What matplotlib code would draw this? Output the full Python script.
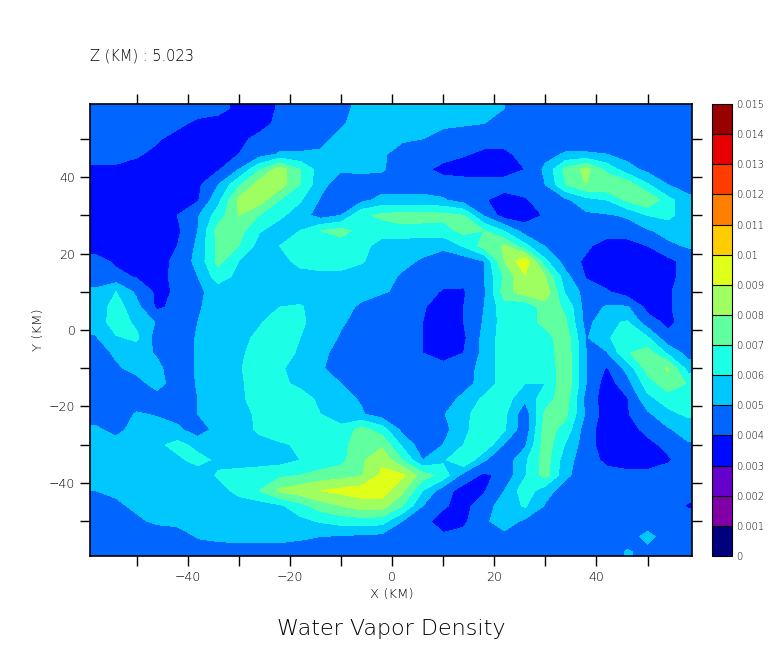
import numpy as np
import matplotlib
matplotlib.use('Agg')
import matplotlib.pyplot as plt

# grid, values in units of 0.001
x_km = [-58 + 4 * i for i in range(30)]
y_km = [58 - 4 * i for i in range(30)]

vapor = [
    [4.4,4.4,4.4,4.4,4.4,4.4,4.4,3.7,3.6,4.1,4.4,4.5,4.8,5.2,5.4,5.5,5.4,5.3,5.2,5.1,5.0,4.5,4.4,4.4,4.4,4.4,4.4,4.4,4.4,4.4],
    [4.4,4.4,4.4,4.4,4.2,3.8,3.5,3.5,3.7,4.2,4.4,4.5,4.9,5.3,5.4,5.3,5.2,5.1,5.1,5.0,4.6,4.4,4.4,4.4,4.4,4.4,4.4,4.4,4.4,4.4],
    [4.4,4.4,4.3,4.1,3.7,3.5,3.5,3.8,4.2,4.4,4.5,4.8,5.2,5.3,5.2,5.1,5.0,4.8,4.5,4.4,4.4,4.4,4.4,4.4,4.4,4.4,4.4,4.4,4.4,4.4],
    [4.2,4.2,4.1,3.8,3.5,3.5,3.7,4.0,4.5,5.1,5.1,5.1,5.2,5.2,5.1,4.7,4.5,4.4,4.1,3.8,3.8,4.3,4.7,5.1,5.1,5.0,4.6,4.4,4.4,4.4],
    [3.9,3.9,3.7,3.5,3.5,3.5,3.9,5.0,6.9,8.5,7.0,5.5,5.1,5.2,5.1,4.5,4.2,3.7,3.5,3.5,3.5,4.0,5.2,7.3,8.3,6.7,5.4,4.7,4.4,4.4],
    [3.5,3.5,3.5,3.5,3.5,3.8,5.0,6.8,8.5,8.5,7.0,5.3,4.5,4.5,4.5,4.5,4.5,4.5,4.5,4.5,4.5,4.4,5.0,7.0,8.0,7.9,7.6,6.1,5.0,4.5],
    [3.5,3.5,3.5,3.5,3.5,3.9,5.7,8.2,8.5,7.0,6.1,4.9,4.4,4.7,5.3,5.3,5.3,5.1,4.5,4.1,3.5,3.9,4.4,4.8,5.6,6.0,7.2,7.9,6.3,5.3],
    [3.5,3.5,3.5,3.5,4.0,4.9,6.5,8.0,7.0,6.2,5.5,4.5,5.0,6.8,7.2,7.4,7.4,7.3,7.0,4.9,3.5,3.5,4.1,4.5,4.8,4.9,5.1,6.0,6.3,5.3],
    [3.5,3.5,3.5,3.5,3.8,5.0,7.4,7.4,6.1,5.5,6.0,7.0,7.3,6.7,6.5,6.7,6.6,6.6,7.3,7.0,5.9,4.5,4.5,4.5,4.5,4.5,4.6,4.9,5.3,5.3],
    [3.5,3.5,3.5,3.5,4.0,5.2,7.3,7.0,5.6,6.0,6.5,6.7,6.6,6.4,5.5,5.3,5.3,5.2,6.1,7.4,8.1,6.3,4.9,4.4,4.2,3.5,3.5,4.0,4.8,5.1],
    [4.4,3.8,3.5,3.5,4.3,5.3,7.3,6.0,5.5,5.5,6.4,6.8,6.6,6.1,5.5,5.2,4.9,4.5,4.4,5.0,8.0,9.8,6.2,4.5,3.8,3.5,3.5,3.5,3.7,4.4],
    [4.4,4.3,3.9,3.5,4.4,5.0,6.5,5.7,5.5,5.5,5.5,5.5,5.6,5.5,5.3,4.9,4.5,4.4,4.3,5.0,7.2,8.9,8.0,5.3,3.9,3.5,3.5,3.5,3.7,4.4],
    [5.2,6.0,4.8,3.8,4.1,4.8,5.4,5.5,5.4,5.5,5.5,5.4,5.3,5.2,5.1,4.8,4.4,3.9,3.9,4.8,7.5,8.6,8.6,5.8,4.6,4.1,3.5,3.5,3.9,4.4],
    [5.3,6.5,5.3,3.8,4.3,4.9,5.4,5.5,5.5,6.0,6.1,5.5,5.2,4.9,4.4,4.3,4.1,3.5,4.0,5.0,6.6,6.1,7.6,6.8,4.5,5.1,5.1,3.7,3.9,4.4],
    [5.4,6.5,5.8,4.9,4.1,5.0,5.5,5.6,5.9,6.5,6.2,5.5,5.1,4.7,4.4,4.3,4.0,3.5,4.0,5.1,6.5,6.5,7.3,7.1,4.6,5.8,6.1,4.4,3.8,4.4],
    [4.9,5.9,6.2,4.5,4.4,5.1,5.5,5.7,6.2,6.5,6.0,5.5,4.9,4.5,4.4,4.3,4.0,3.5,3.8,5.3,6.5,6.6,6.6,7.6,4.9,5.8,6.8,6.1,4.2,4.4],
    [4.4,5.2,5.4,4.9,4.4,5.1,5.5,5.8,6.4,6.3,5.9,5.2,4.7,4.4,4.3,4.2,4.0,3.5,4.0,5.3,6.5,6.5,6.4,7.7,5.0,4.9,6.9,7.5,5.8,4.6],
    [4.4,4.8,5.4,5.2,4.5,5.1,5.5,5.9,6.5,6.1,5.7,5.1,4.6,4.4,4.3,4.3,4.3,4.4,4.6,5.3,6.5,6.4,6.2,7.7,5.0,3.9,5.3,7.4,8.1,5.5],
    [4.4,4.4,4.5,5.5,4.3,5.1,5.5,5.8,6.5,6.2,5.8,5.4,5.0,4.6,4.4,4.4,4.4,4.5,4.7,5.3,6.5,6.0,6.0,7.8,5.0,3.5,4.6,6.5,7.6,6.9],
    [4.4,4.4,4.4,4.4,4.4,5.0,5.4,5.8,6.4,6.5,6.4,5.8,5.3,4.9,4.4,4.4,4.4,4.6,5.2,6.2,6.5,5.2,6.6,7.5,4.6,3.5,3.9,5.7,6.5,6.5],
    [4.4,4.4,5.1,4.9,4.6,5.0,5.3,5.6,6.2,6.4,6.3,6.0,5.6,5.1,4.5,4.4,4.4,4.9,5.8,6.4,6.2,4.3,7.2,7.2,4.8,3.5,3.9,4.8,5.7,6.2],
    [5.2,4.6,5.5,5.5,5.2,4.4,5.4,5.7,6.1,6.4,6.5,6.4,6.2,7.4,6.5,4.7,4.3,4.6,5.8,6.5,6.1,4.3,7.5,6.6,4.4,3.5,3.7,4.2,4.9,5.4],
    [5.5,5.5,5.5,5.8,6.3,5.7,5.5,5.6,5.8,5.9,6.1,6.4,6.7,7.5,7.8,5.8,4.4,5.0,6.0,6.8,4.9,4.8,7.6,5.9,4.4,3.5,3.5,3.8,4.2,4.9],
    [5.5,5.5,5.5,5.5,5.8,6.3,5.8,5.5,5.5,5.6,6.0,6.3,6.7,7.8,8.8,7.0,5.0,5.8,7.0,5.1,4.3,5.8,7.5,5.4,4.4,3.8,3.5,3.5,3.9,4.4],
    [5.5,5.5,5.5,5.5,5.5,5.5,6.1,6.4,6.6,6.8,7.0,7.4,7.6,7.9,9.2,9.2,7.5,6.6,4.6,3.8,4.3,5.9,7.4,5.2,4.4,4.3,4.3,4.3,4.4,4.4],
    [5.0,5.2,5.4,5.5,5.5,5.5,5.6,6.3,7.0,8.2,8.6,9.0,9.3,9.5,9.5,8.2,6.0,4.4,3.6,3.9,5.0,6.6,5.4,4.5,4.4,4.4,4.4,4.4,4.4,4.4],
    [4.4,4.8,5.2,5.4,5.5,5.5,5.5,5.5,5.5,5.8,6.6,7.5,8.0,8.5,8.5,7.0,5.0,4.1,3.7,4.5,5.5,6.1,4.9,4.4,4.4,4.4,4.4,4.4,4.4,3.9],
    [4.2,4.4,4.8,5.2,5.4,5.5,5.5,5.5,5.5,5.5,5.7,6.1,6.4,6.5,6.4,5.0,4.2,3.7,3.8,4.8,5.5,4.8,4.4,4.4,4.4,4.4,4.4,4.4,4.4,4.4],
    [4.3,4.3,4.3,4.3,4.3,5.1,5.3,5.4,5.4,5.4,5.2,5.0,4.9,4.8,4.7,4.6,4.3,4.1,4.3,4.6,4.7,4.5,4.4,4.4,4.4,4.4,4.5,5.3,4.5,4.4],
    [4.4,4.4,4.4,4.4,4.4,4.4,4.4,4.4,4.4,4.4,4.4,4.4,4.4,4.4,4.4,4.4,4.4,4.4,4.4,4.4,4.4,4.4,4.4,4.4,4.4,4.4,5.1,4.7,4.4,4.4],
]

levels = [i / 1000 for i in range(16)]
level_labels = ['0', '0.001', '0.002', '0.003', '0.004', '0.005', '0.006', '0.007',
                '0.008', '0.009', '0.01', '0.011', '0.012', '0.013', '0.014', '0.015']
colors = ['#00007f', '#8000a6', '#6600cc', '#000aff', '#0066ff', '#00c8ff', '#1cffe6', '#60ffa0',
          '#a0ff60', '#e0ff19', '#ffcc00', '#ff8000', '#ff3c00', '#e60000', '#990000']

W, H = 768, 662
fig = plt.figure(figsize=(W / 100, H / 100), dpi=100)
ax = fig.add_axes([90 / W, 1 - 556 / H, 602 / W, 452 / H])
cax = fig.add_axes([712 / W, 1 - 556 / H, 20 / W, 452 / H])

# repeat the outer rows and columns so the field reaches the frame
z = np.pad(np.array(vapor) / 1000, 1, mode='edge')
xs = [-60] + x_km + [60]
ys = [60] + y_km + [-60]

cf = ax.contourf(xs, ys, z, levels=levels, colors=colors)
ax.set_xlim(-59.1, 58.7)
ax.set_ylim(-59.1, 59.1)

ticks = [-50, -40, -30, -20, -10, 0, 10, 20, 30, 40, 50]
tick_text = ['' if t % 20 else str(t).replace('-', '\u2212') for t in ticks]
ax.set_xticks(ticks)
ax.set_xticklabels(tick_text, fontsize=9, fontweight='light')
ax.set_yticks(ticks)
ax.set_yticklabels(tick_text, fontsize=9, fontweight='light')
ax.tick_params(direction='out', length=7.5, width=1.0, top=True, right=True, pad=3)
for s in ax.spines.values():
    s.set_linewidth(1.2)

fig.text(392 / W, 1 - 594 / H, 'X (KM)', ha='center', va='center', fontsize=9.5, fontweight='light')
fig.text(38 / W, 1 - 330 / H, 'Y (KM)', ha='center', va='center', rotation=90, fontsize=9.5, fontweight='light')
fig.text(90 / W, 1 - 56 / H, 'Z (KM) : 5.023', ha='left', va='center', fontsize=10.5, fontweight='light')
fig.text(391 / W, 1 - 629 / H, 'Water Vapor Density', ha='center', va='center', fontsize=16, fontweight='light')

cb = fig.colorbar(cf, cax=cax, drawedges=True)
cb.set_ticks(levels)
cb.set_ticklabels(level_labels, fontsize=7, fontweight='light')
cb.ax.tick_params(length=0, pad=3)
cb.dividers.set_color('black')
cb.dividers.set_linewidth(0.8)
cb.outline.set_linewidth(0.8)

fig.savefig('out.png', dpi=100)
